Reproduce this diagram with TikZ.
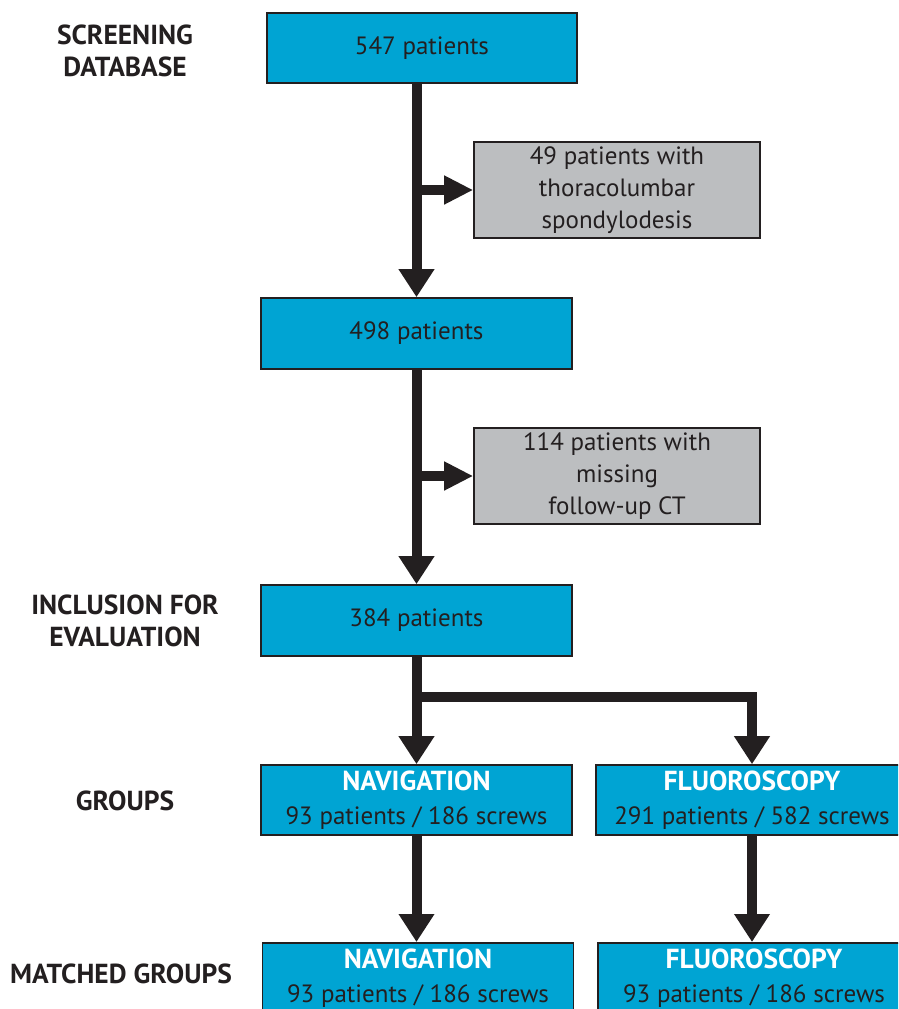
\documentclass[tikz,border=0pt]{standalone}
\usepackage{fontspec}
\setmainfont{PT Sans}
\usetikzlibrary{arrows.meta}
\definecolor{boxblue}{HTML}{00A4D3}
\definecolor{boxgray}{HTML}{BCBEC0}
\definecolor{ink}{HTML}{231F20}
\newcommand{\hdr}[1]{\textcolor{white}{\bfseries\fontsize{27.5}{34}\selectfont #1}}
\tikzset{
  bluebox/.style={draw=ink, line width=1.6pt, fill=boxblue, minimum width=311pt, minimum height=71pt, text=ink, font=\fontsize{25}{32}\selectfont, align=center, inner sep=0pt},
  graybox/.style={draw=ink, line width=1.6pt, fill=boxgray, minimum width=286pt, minimum height=96pt, text=ink, font=\fontsize{25}{32}\selectfont, align=center, inner sep=0pt},
  groupbox/.style={bluebox, minimum height=70pt, font=\fontsize{25}{34}\selectfont},
  steplabel/.style={text=ink, font=\bfseries\fontsize{27.5}{32}\selectfont, align=center},
  trunk/.style={draw=ink, line width=10pt, line join=miter},
  downarr/.style={trunk, -{Triangle[width=34pt,length=28pt]}},
  sidearr/.style={trunk, -{Triangle[width=27pt,length=29pt]}}
}
\begin{document}
\begin{tikzpicture}[x=1pt,y=-1pt]
\useasboundingbox (0,0) rectangle (898,1009);
\clip (0,0) rectangle (898,1009);
% labels
\node[steplabel] (l1) at (125,51) {SCREENING\\DATABASE};
\node[steplabel] (l2) at (125,621) {INCLUSION FOR\\EVALUATION};
\node[steplabel] (l3) at (125,801) {GROUPS};
\node[steplabel] (l4) at (121,974) {MATCHED GROUPS};
% boxes
\node[bluebox, minimum width=310pt, minimum height=70pt] (b1) at (422,48) {547 patients};
\node[graybox] (g1) at (617,190) {49 patients with\\thoracolumbar\\spondylodesis};
\node[bluebox] (b2) at (416.5,333.5) {498 patients};
\node[graybox] (g2) at (617,476) {114 patients with\\missing\\follow-up CT};
\node[bluebox] (b3) at (416.5,620.5) {384 patients};
\node[groupbox] (nav) at (416.5,800) {\hdr{NAVIGATION}\\93 patients / 186 screws};
\node[groupbox, minimum width=312pt] (flu) at (752,800) {\hdr{FLUOROSCOPY}\\291 patients / 582 screws};
\node[groupbox, anchor=north] (mnav) at (418,942) {\hdr{NAVIGATION}\\93 patients / 186 screws};
\node[groupbox, minimum width=312pt, anchor=north] (mflu) at (754,942) {\hdr{FLUOROSCOPY}\\93 patients / 186 screws};
% connectors
\coordinate (split) at (416.5,697);
\draw[downarr] (b2 |- b1.south) -- (b2.north);
\draw[sidearr] (b2 |- g1) -- (g1.west);
\draw[downarr] (b2.south) -- (b3.north);
\draw[sidearr] (b3 |- g2) -- (g2.west);
\draw[downarr] (b3.south) -- (nav.north);
\draw[downarr] (split) -| (flu.north);
\draw[downarr] (nav.south) -- (nav.south |- mnav.north);
\draw[downarr] (flu.south) -- (flu.south |- mflu.north);
\end{tikzpicture}
\end{document}
